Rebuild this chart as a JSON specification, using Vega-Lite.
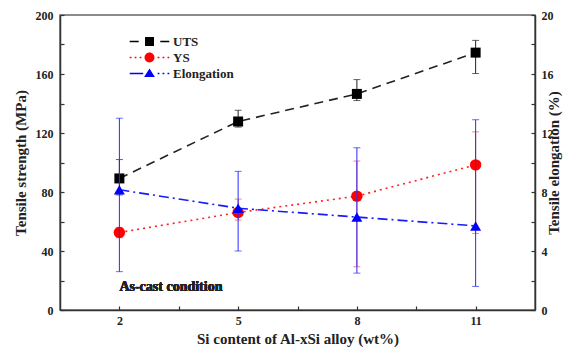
{
"$schema": "https://vega.github.io/schema/vega-lite/v6.json",
"width": 475, "height": 295,
"autosize": {"type": "none"},
"padding": {"left": 60, "top": 15, "right": 41, "bottom": 44},
"config": {
  "font": "Liberation Serif",
  "view": {"stroke": "#666", "strokeWidth": 1.5},
  "axis": {"labelFont": "Liberation Serif", "labelFontWeight": "bold", "labelFontSize": 12, "titleFont": "Liberation Serif", "titleFontWeight": "bold", "titleFontSize": 15, "grid": false, "domainColor": "#333", "tickColor": "#333", "labelColor": "#222", "titleColor": "#222", "domainWidth": 1.5, "tickSize": -4, "tickWidth": 1.2},
  "legend": {"labelFont": "Liberation Serif", "labelFontWeight": "bold", "labelFontSize": 13}
},
"data": {"values": [
  {"x": 2, "series": "UTS", "value": 89.2, "lo": 78, "hi": 102},
  {"x": 5, "series": "UTS", "value": 127.8, "lo": 124, "hi": 135.4},
  {"x": 8, "series": "UTS", "value": 146.5, "lo": 142, "hi": 156.2},
  {"x": 11, "series": "UTS", "value": 174.5, "lo": 160.3, "hi": 182.8},
  {"x": 2, "series": "YS", "value": 52.6, "lo": 49, "hi": 56},
  {"x": 5, "series": "YS", "value": 66.1, "lo": 61, "hi": 75.2},
  {"x": 8, "series": "YS", "value": 77.2, "lo": 29.3, "hi": 101},
  {"x": 11, "series": "YS", "value": 98.4, "lo": 51.9, "hi": 120.8},
  {"x": 2, "series": "Elongation", "value": 8.15, "lo": 2.6, "hi": 13.0},
  {"x": 5, "series": "Elongation", "value": 6.9, "lo": 4.0, "hi": 9.4},
  {"x": 8, "series": "Elongation", "value": 6.3, "lo": 2.5, "hi": 11.0},
  {"x": 11, "series": "Elongation", "value": 5.7, "lo": 1.6, "hi": 12.9}
]},
"layer": [
  {
    "transform": [{"filter": "datum.series !== 'Elongation'"}],
    "encoding": {
      "x": {"field": "x", "type": "quantitative", "scale": {"domain": [0.5, 12.5]},
            "axis": {"values": [2, 3.5, 5, 6.5, 8, 9.5, 11], "labelExpr": "datum.value % 1 === 0 ? datum.label : ''", "title": "Si content of Al-xSi alloy (wt%)", "labelPadding": 9, "titlePadding": 5}},
      "y": {"field": "value", "type": "quantitative", "scale": {"domain": [0, 200]},
            "axis": {"orient": "left", "values": [0, 20, 40, 60, 80, 100, 120, 140, 160, 180, 200], "labelExpr": "datum.value % 40 === 0 ? datum.label : ''", "title": "Tensile strength (MPa)", "labelPadding": 11, "titlePadding": 7}}
    },
    "layer": [
      {"transform": [{"filter": "datum.series === 'UTS'"}], "mark": {"type": "line", "color": "#222", "strokeDash": [9, 6], "strokeWidth": 1.6}},
      {"transform": [{"filter": "datum.series === 'YS'"}], "mark": {"type": "line", "color": "#ff2020", "strokeDash": [2, 4], "strokeWidth": 1.6}},
      {"transform": [{"filter": "datum.series === 'UTS'"}], "mark": {"type": "errorbar", "color": "#222", "ticks": {"size": 7, "thickness": 1}, "thickness": 1},
       "encoding": {"y": {"field": "lo", "type": "quantitative"}, "y2": {"field": "hi"}}},
      {"transform": [{"filter": "datum.series === 'YS'"}], "mark": {"type": "errorbar", "color": "#ff5050", "ticks": {"size": 7, "thickness": 1}, "thickness": 1},
       "encoding": {"y": {"field": "lo", "type": "quantitative"}, "y2": {"field": "hi"}}},
      {"transform": [{"filter": "datum.series === 'UTS'"}], "mark": {"type": "point", "shape": "square", "filled": true, "color": "#000", "size": 100, "opacity": 1}},
      {"transform": [{"filter": "datum.series === 'YS'"}], "mark": {"type": "point", "shape": "circle", "filled": true, "color": "#ff0000", "size": 130, "opacity": 1}},
      {"mark": {"type": "text", "text": "As-cast condition", "align": "left", "baseline": "middle", "fontSize": 14, "fontWeight": "bold", "font": "Liberation Serif", "color": "#222"},
       "encoding": {"x": {"datum": 2}, "y": {"datum": 15.6}}},
      {"transform": [{"filter": "datum.x === 2"}],
       "mark": {"type": "point", "filled": true, "opacity": 0, "size": 81},
       "encoding": {
         "shape": {"field": "series", "type": "nominal", "scale": {"domain": ["UTS", "YS", "Elongation"], "range": [
            "M-4.4,-0.17H-2.4V0.17H-4.4Z M-1,-1H1V1H-1Z M2.4,-0.17H4.4V0.17H2.4Z",
            "M-4.4,-0.17H-4.0V0.17H-4.4Z M-3.3,-0.17H-2.9V0.17H-3.3Z M-2.2,-0.17H-1.8V0.17H-2.2Z M-1.1,0A1.1,1.1 0 1,0 1.1,0A1.1,1.1 0 1,0 -1.1,0Z M1.8,-0.17H2.2V0.17H1.8Z M2.9,-0.17H3.3V0.17H2.9Z M4.0,-0.17H4.4V0.17H4.0Z",
            "M-4.4,-0.17H-1.4V0.17H-4.4Z M-1.2,0.8L1.2,0.8L0,-1.1Z M1.8,-0.17H2.2V0.17H1.8Z M2.9,-0.17H3.3V0.17H2.9Z M4.0,-0.17H4.4V0.17H4.0Z"
         ]},
           "legend": {"title": null, "orient": "none", "legendX": 83, "legendY": 20, "padding": 0, "rowPadding": 2, "labelOffset": 17, "labelFont": "Liberation Serif", "labelFontWeight": "bold", "labelFontSize": 13, "labelColor": "#222", "symbolOpacity": 1, "symbolStrokeWidth": 0, "symbolSize": 81}},
         "color": {"field": "series", "type": "nominal", "scale": {"domain": ["UTS", "YS", "Elongation"], "range": ["#000000", "#ff0000", "#0000ff"]}}
       }}
    ]
  },
  {
    "transform": [{"filter": "datum.series === 'Elongation'"}],
    "encoding": {
      "x": {"field": "x", "type": "quantitative", "scale": {"domain": [0.5, 12.5]},
            "axis": {"values": [2, 3.5, 5, 6.5, 8, 9.5, 11], "labelExpr": "datum.value % 1 === 0 ? datum.label : ''", "title": "Si content of Al-xSi alloy (wt%)", "labelPadding": 9, "titlePadding": 5}},
      "y": {"field": "value", "type": "quantitative", "scale": {"domain": [0, 20]},
            "axis": {"orient": "right", "values": [0, 2, 4, 6, 8, 10, 12, 14, 16, 18, 20], "labelExpr": "datum.value % 4 === 0 ? datum.label : ''", "title": "Tensile elongation (%)", "titleAngle": -90, "labelPadding": 10, "titlePadding": 8}}
    },
    "layer": [
      {"mark": {"type": "line", "color": "#1a1aff", "strokeDash": [10, 4, 2, 4], "strokeWidth": 1.6}},
      {"mark": {"type": "errorbar", "color": "#2a2aff", "ticks": {"size": 7, "thickness": 1}, "thickness": 1},
       "encoding": {"y": {"field": "lo", "type": "quantitative"}, "y2": {"field": "hi"}}},
      {"mark": {"type": "point", "shape": "triangle-up", "filled": true, "color": "#0000ff", "size": 120, "opacity": 1}}
    ]
  }
],
"resolve": {"scale": {"y": "independent"}}
}
